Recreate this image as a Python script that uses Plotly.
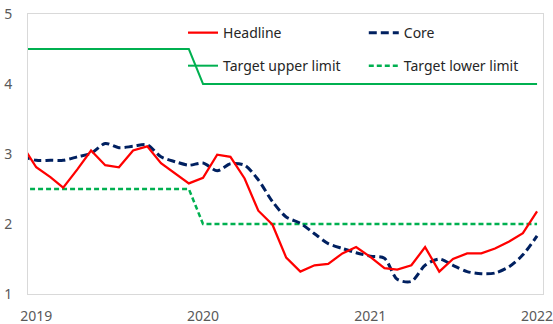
import pandas as pd
import plotly.graph_objects as go

# Monthly observations, Dec 2018 to Jan 2022 (% y/y)
months = pd.date_range("2018-12-01", "2022-01-01", freq="MS")

headline = [
    3.13,
    2.81, 2.67, 2.52, 2.78, 3.05, 2.84, 2.81, 3.05, 3.11, 2.87, 2.72, 2.58,
    2.66, 2.99, 2.96, 2.65, 2.19, 1.99, 1.52, 1.32, 1.41, 1.43, 1.58, 1.67,
    1.53, 1.37, 1.35, 1.41, 1.67, 1.32, 1.50, 1.58, 1.58, 1.65, 1.75, 1.87,
    2.18,
]
core = [
    2.97,
    2.91, 2.91, 2.91, 2.96, 3.01, 3.15, 3.09, 3.11, 3.13, 2.96, 2.89, 2.84,
    2.87, 2.76, 2.86, 2.84, 2.63, 2.32, 2.10, 2.01, 1.86, 1.72, 1.65, 1.59,
    1.54, 1.51, 1.21, 1.18, 1.41, 1.50, 1.41, 1.32, 1.29, 1.30, 1.39, 1.56,
    1.83,
]
# Inflation target band: 3.5 +/- 1 in 2019, 3 +/- 1 from 2020
target_upper = [4.5] * 13 + [4.0] * 25
target_lower = [2.5] * 13 + [2.0] * 25

year_ticks = ["2019-01-01", "2020-01-01", "2021-01-01", "2022-01-01"]
year_labels = ["2019", "2020", "2021", "2022"]

RED = "#FF0000"
NAVY = "#002060"
GREEN = "#00B050"
FONT = "Noto Sans"

fig = go.Figure()
fig.add_trace(go.Scatter(
    x=months, y=target_upper, name="Target upper limit", mode="lines",
    line=dict(color=GREEN, width=2), legend="legend3",
))
fig.add_trace(go.Scatter(
    x=months, y=target_lower, name="Target lower limit", mode="lines",
    line=dict(color=GREEN, width=2.5, dash="5px,3px"), legend="legend4",
))
fig.add_trace(go.Scatter(
    x=months, y=core, name="Core", mode="lines",
    line=dict(color=NAVY, width=3, dash="8px,4px", shape="spline", smoothing=0.8),
    legend="legend2",
))
fig.add_trace(go.Scatter(
    x=months, y=headline, name="Headline", mode="lines",
    line=dict(color=RED, width=2.25), legend="legend",
))

# one legend box per entry, arranged as a 2 x 2 grid inside the plot
def legend_box(x, y):
    return dict(
        x=x, y=y, xanchor="left", yanchor="middle", orientation="v",
        font=dict(family=FONT, size=14, color="#262626"),
        bgcolor="rgba(0,0,0,0)", itemwidth=30,
    )

fig.update_layout(
    width=553, height=324,
    margin=dict(l=28, r=10, t=14, b=30),
    paper_bgcolor="white", plot_bgcolor="white",
    font=dict(family=FONT, size=14, color="#595959"),
    showlegend=True,
    legend=legend_box(0.301, 0.932),
    legend2=legend_box(0.652, 0.932),
    legend3=legend_box(0.301, 0.814),
    legend4=legend_box(0.652, 0.814),
    xaxis=dict(
        type="date", range=["2018-12-14", "2022-01-14"],
        tickvals=year_ticks, ticktext=year_labels,
        showgrid=False, zeroline=False, ticks="",
        showline=True, linecolor="#D9D9D9", linewidth=1, mirror=True,
        ticklabelstandoff=9, automargin=False, ticklabeloverflow="allow",
    ),
    yaxis=dict(
        range=[1, 5], dtick=1, showgrid=False, zeroline=False, ticks="",
        showline=True, linecolor="#D9D9D9", linewidth=1, mirror=True,
        ticklabelstandoff=12, automargin=False,
    ),
)

fig.write_html("out.html")
